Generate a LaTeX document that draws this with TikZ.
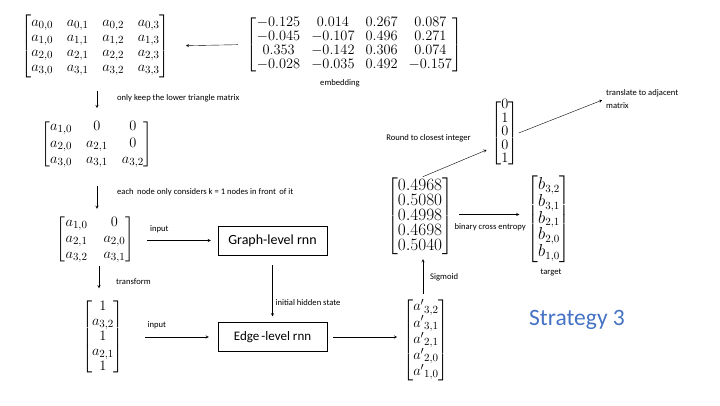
\documentclass[tikz,border=0pt]{standalone}
\usepackage{amsmath}
\usepackage{amssymb}
\usepackage{fontspec}
\setmainfont{Carlito}
\usetikzlibrary{arrows}
\usetikzlibrary{positioning}
\definecolor{strategyblue}{HTML}{4472C4}
\tikzset{
    mat/.style={inner sep=0pt, font=\fontsize{15}{16}\selectfont},
    lbl/.style={inner sep=1pt, font=\fontsize{8.6}{10}\selectfont},
    rnn/.style={draw, thin, minimum width=109pt, minimum height=29pt, inner sep=0pt,
        font=\fontsize{14}{16}\selectfont},
    flow/.style={-stealth, thin},
}

\begin{document}
\begin{tikzpicture}[x=1pt, y=-1pt]
    \useasboundingbox (0,0) rectangle (720,405);

    % matrices on the left
    \node[mat, font=\fontsize{15}{15}\selectfont] (adj) at (95.5,46) {\arraycolsep=6.8pt$\begin{bmatrix}
        a_{0,0} & a_{0,1} & a_{0,2} & a_{0,3}\\
        a_{1,0} & a_{1,1} & a_{1,2} & a_{1,3}\\
        a_{2,0} & a_{2,1} & a_{2,2} & a_{2,3}\\
        a_{3,0} & a_{3,1} & a_{3,2} & a_{3,3}
      \end{bmatrix}$};
    \node[mat, font=\fontsize{15}{14.2}\selectfont] (emb) at (354.5,44.5) {\arraycolsep=5.5pt$\begin{bmatrix}
        -0.125 & 0.014 & 0.267 & 0.087\\
        -0.045 & -0.107 & 0.496 & 0.271\\
        0.353 & -0.142 & 0.306 & 0.074\\
        -0.028 & -0.035 & 0.492 & -0.157
      \end{bmatrix}$};
    \node[lbl] (embl) at (340,83) {embedding};
    \node[mat, font=\fontsize{15}{16.5}\selectfont] (lower) at (97,144) {\arraycolsep=7pt$\begin{bmatrix}
        a_{1,0} & 0 & 0\\
        a_{2,0} & a_{2,1} & 0\\
        a_{3,0} & a_{3,1} & a_{3,2}
      \end{bmatrix}$};
    \node[mat] (band) at (95.5,239) {\arraycolsep=8pt$\begin{bmatrix}
        a_{1,0} & 0\\
        a_{2,1} & a_{2,0}\\
        a_{3,2} & a_{3,1}
      \end{bmatrix}$};
    \node[mat, font=\fontsize{15}{15}\selectfont] (seq) at (103,337) {$\begin{bmatrix}
        1\\ a_{3,2}\\ 1\\ a_{2,1}\\ 1
      \end{bmatrix}$};

    % the two rnns
    \node[rnn] (graph) at (272.5,240.5) {Graph-level rnn};
    \node[rnn, font=\fontsize{13}{15}\selectfont] (edge) at (272.5,337) {Edge\,-level rnn};

    % outputs on the right
    \node[mat, font=\fontsize{15}{16.2}\selectfont] (aout) at (426,340) {$\begin{bmatrix}
        {a'}_{3,2}\\ {a'}_{3,1}\\ {a'}_{2,1}\\ {a'}_{2,0}\\ {a'}_{1,0}
      \end{bmatrix}$};
    \node[mat, font=\fontsize{16}{13}\selectfont] (prob) at (420,216.5) {$\begin{bmatrix}
        0.4968\\ 0.5080\\ 0.4998\\ 0.4698\\ 0.5040
      \end{bmatrix}$};
    \node[mat, font=\fontsize{16}{15.6}\selectfont] (target) at (549,219.5) {$\begin{bmatrix}
        b_{3,2}\\ b_{3,1}\\ b_{2,1}\\ b_{2,0}\\ b_{1,0}
      \end{bmatrix}$};
    \node[lbl] (targetl) at (551,273) {target};
    \node[mat, font=\fontsize{15}{13.6}\selectfont] (bin) at (505,133) {$\begin{bmatrix}
        0\\ 1\\ 0\\ 0\\ 1
      \end{bmatrix}$};
    \node[lbl, anchor=west, align=left, font=\fontsize{8.6}{13}\selectfont] (trans) at (605,99)
        {translate to adjacent\\matrix};
    \node[lbl] (roundl) at (428.5,138) {Round to closest integer};

    \node[font=\fontsize{23.5}{28}\selectfont, text=strategyblue] (title) at (577,320) {Strategy 3};

    % connectors
    \draw[flow, shorten <=9pt, shorten >=16pt] (emb.west) -- (adj.east);
    \draw[flow, shorten <=13pt, shorten >=11pt] ([xshift=1.5pt]adj.south) -- ([xshift=1.5pt]adj.south |- lower.north)
        node[lbl, midway, right=19pt] (keepl) {only keep the lower triangle matrix};
    \draw[flow, shorten <=17pt, shorten >=6pt] (lower.south) -- (lower.south |- band.north)
        node[lbl, midway, right=19pt] (kl) {each\, node only considers k = 1 nodes in front\, of it};
    \draw[flow, shorten <=3pt, shorten >=11pt] ([xshift=3.5pt]band.south) -- ([xshift=3.5pt]band.south |- seq.north)
        node[lbl, midway, right=16pt] (transl) {transform};
    \draw[flow, shorten <=13pt, shorten >=7pt] (band.east |- graph.west) -- (graph.west)
        node[lbl, pos=0.3, above=6pt] (inl) {input};
    \draw[flow, shorten <=21pt, shorten >=9pt] (seq.east |- edge.west) -- (edge.west)
        node[lbl, pos=0.35, above=7pt] (in2l) {input};
    \draw[flow, shorten <=10pt, shorten >=6pt] (graph.south) -- (edge.north)
        node[lbl, pos=0.7, right=2pt] (hidl) {initial hidden state};
    \draw[flow, shorten <=6pt, shorten >=6pt] (edge.east) -- (edge.east -| aout.west);
    \draw[flow, shorten <=5pt, shorten >=4pt] ([xshift=-3pt]aout.north) -- ([xshift=-3pt]aout.north |- prob.south)
        node[lbl, midway, right=6pt] (sigl) {Sigmoid};
    \draw[flow, shorten <=6pt, shorten >=8pt] ([yshift=2pt]prob.east) -- ([yshift=2pt]prob.east -| target.west)
        node[lbl, midway, below=8pt] (bcel) {binary cross entropy};
    \draw[flow, shorten <=3pt, shorten >=5pt] (prob.north) -- ([yshift=-15pt]bin.west);
    \draw[flow, shorten >=3pt] (bin.east) -- (trans.west);
\end{tikzpicture}
\end{document}
